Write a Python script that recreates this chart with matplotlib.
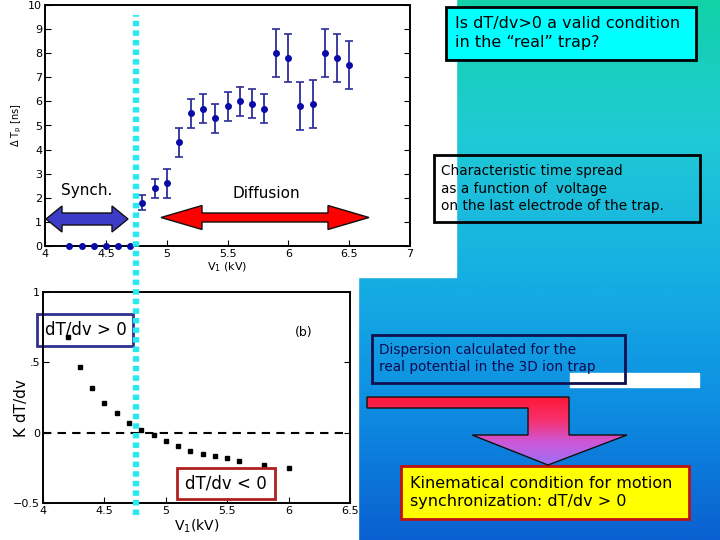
import matplotlib.pyplot as plt
import numpy as np
import matplotlib.transforms as mtransforms
from matplotlib.patches import Rectangle, Polygon
from matplotlib.lines import Line2D
from matplotlib.colors import LinearSegmentedColormap

# top panel: time spread vs voltage on last electrode
v_sync = [4.2, 4.3, 4.4, 4.5, 4.6, 4.7]
dt_sync = [0, 0, 0, 0, 0, 0]
v_diff = [4.8, 4.9, 5.0, 5.1, 5.2, 5.3, 5.4, 5.5, 5.6, 5.7, 5.8, 5.9, 6.0, 6.1, 6.2, 6.3, 6.4, 6.5]
dt_diff = [1.8, 2.4, 2.6, 4.3, 5.5, 5.7, 5.3, 5.8, 6.0, 5.9, 5.7, 8.0, 7.8, 5.8, 5.9, 8.0, 7.8, 7.5]
dt_err = [0.3, 0.4, 0.6, 0.6, 0.6, 0.6, 0.6, 0.6, 0.6, 0.6, 0.6, 1.0, 1.0, 1.0, 1.0, 1.0, 1.0, 1.0]
top_xticks = [4, 4.5, 5, 5.5, 6, 6.5, 7]
top_xlabels = ['4', '4.5', '5', '5.5', '6', '6.5', '7']

# bottom panel: dispersion K dT/dv
v_disp = [4.2, 4.3, 4.4, 4.5, 4.6, 4.7, 4.8, 4.9, 5.0, 5.1, 5.2, 5.3, 5.4, 5.5, 5.6, 5.8, 6.0]
k_dtdv = [0.68, 0.465, 0.32, 0.213, 0.138, 0.067, 0.02, -0.019, -0.059, -0.095, -0.128,
          -0.149, -0.163, -0.178, -0.204, -0.232, -0.249]
bot_xticks = [4, 4.5, 5, 5.5, 6, 6.5]
bot_xlabels = ['4', '4.5', '5', '5.5', '6', '6.5']
bot_yticks = [-0.5, 0, 0.5, 1]
bot_ylabels = ['\u22120.5', '0', '.5', '1']

v_limit = 4.75  # synch / diffusion boundary

fig = plt.figure(figsize=(7.2, 5.4), dpi=100)

# slide background (pixel coords)
bg = fig.add_axes([0, 0, 1, 1], zorder=-10)
cmap = LinearSegmentedColormap.from_list('slide', ['#12d2a8', '#20cad6', '#16b0e2', '#0e8ee2', '#0a60d0'])
grad = np.linspace(0, 1, 256).reshape(-1, 1)
bg.imshow(grad, aspect='auto', cmap=cmap, extent=[0, 720, 540, 0])
bg.add_patch(Rectangle((0, 0), 456, 277, color='white'))
bg.add_patch(Rectangle((0, 277), 358, 263, color='white'))
bg.set_xlim(0, 720)
bg.set_ylim(540, 0)
bg.axis('off')

# overlay for annotations (pixel coords)
ov = fig.add_axes([0, 0, 1, 1], zorder=5)
ov.set_xlim(0, 720)
ov.set_ylim(540, 0)
ov.axis('off')
ov.patch.set_alpha(0)

# ---- top plot
ax1 = fig.add_axes([45/720, 1-246/540, 365/720, 241/540])
ax1.errorbar(v_diff, dt_diff, yerr=dt_err, fmt='o', ms=4, color='#0a0aa8',
             ecolor='#2c2c9c', elinewidth=1.3, capsize=3, capthick=1.2)
ax1.plot(v_sync, dt_sync, 'o', ms=4, color='#0a0aa8', clip_on=False, zorder=4)
ax1.set_xlim(4, 7)
ax1.set_ylim(0, 10)
ax1.set_xticks(top_xticks)
ax1.set_xticklabels(top_xlabels)
ax1.set_yticks(range(0, 11))
ax1.tick_params(direction='in', right=True, labelsize=8, length=4, pad=2)
ax1.set_xlabel('V$_1$ (kV)', fontsize=8, labelpad=1)
ax1.set_ylabel(r'$\Delta$ T$_\mathrm{p}$ [ns]', fontsize=7, labelpad=3)
for s in ax1.spines.values():
    s.set_linewidth(1.4)

# ---- bottom plot
ax2 = fig.add_axes([43/720, 1-503/540, 307/720, 211/540])
ax2.plot(v_disp, k_dtdv, 's', ms=3, color='black', zorder=4)
ax2.axhline(0, ls=(0, (4, 3)), color='black', lw=1.5)
ax2.set_xlim(4, 6.5)
ax2.set_ylim(-0.5, 1)
ax2.set_xticks(bot_xticks)
ax2.set_xticklabels(bot_xlabels)
ax2.set_yticks(bot_yticks)
ax2.set_yticklabels(bot_ylabels)
ax2.tick_params(direction='in', right=True, labelsize=8, length=4, pad=2)
ax2.set_xlabel('V$_1$(kV)', fontsize=10, labelpad=1)
ax2.set_ylabel('K dT/dv', fontsize=11)
ax2.yaxis.set_label_coords(-0.045, 0.45)
for s in ax2.spines.values():
    s.set_linewidth(1.4)
ax2.text(0.82, 0.79, '(b)', transform=ax2.transAxes, fontsize=9)

# box "dT/dv > 0" sits under the data points
ax2.add_patch(Rectangle((37, 314), 96, 32, transform=ov.transData, fc='white',
                        ec='#303090', lw=2, zorder=2, clip_on=False))
ax2.text(45, 330, 'dT/dv > 0', transform=ov.transData, fontsize=12, va='center',
         zorder=3, clip_on=False)

# cyan boundary line across both plots
tr = mtransforms.blended_transform_factory(ax1.transData, fig.transFigure)
fig.add_artist(Line2D([v_limit, v_limit], [1-515/540, 1-15/540], transform=tr,
                      color='#28e8f0', lw=4.6, dashes=(0.85, 0.65), solid_capstyle='butt',
                      dash_capstyle='butt', zorder=3))


def double_arrow(x0, x1, y, hl, hw, bw, fc):
    pts = [(x0, y), (x0+hl, y-hw), (x0+hl, y-bw), (x1-hl, y-bw), (x1-hl, y-hw), (x1, y),
           (x1-hl, y+hw), (x1-hl, y+bw), (x0+hl, y+bw), (x0+hl, y+hw)]
    ov.add_patch(Polygon(pts, closed=True, fc=fc, ec='#101010', lw=1))


double_arrow(46, 128, 219, 16, 13, 6, '#3c3cc8')
double_arrow(161, 369, 217.5, 41, 12, 4.5, '#ff0000')
ov.text(87, 190, 'Synch.', fontsize=11, ha='center', va='center')
ov.text(266, 194, 'Diffusion', fontsize=11, ha='center', va='center')


def box(x0, y0, x1, y1, fc, ec):
    ov.add_patch(Rectangle((x0, y0), x1-x0, y1-y0, fc=fc, ec=ec, lw=2))


box(446, 7, 696, 60, '#00ffff', 'black')
ov.text(455, 33, 'Is dT/dv>0 a valid condition\nin the \u201creal\u201d trap?',
        fontsize=11.5, va='center', linespacing=1.35)

box(434, 155, 700, 222, 'none', 'black')
ov.text(441, 188.5, 'Characteristic time spread\nas a function of  voltage\non the last electrode of the trap.',
        fontsize=9.8, va='center', linespacing=1.3)

ov.add_patch(Rectangle((570, 373), 129, 14, color='white'))
box(372, 335, 625, 383, 'none', '#101050')
ov.text(379, 358.5, 'Dispersion calculated for the\nreal potential in the 3D ion trap',
        fontsize=9.8, va='center', color='#0a0a50', linespacing=1.3)

# L-shaped gradient arrow
arrow_pts = [(367, 397), (569, 397), (569, 435), (627, 435), (548, 465), (472, 435),
             (528, 435), (528, 408), (367, 408)]
arr = Polygon(arrow_pts, closed=True, fc='none', ec='#101010', lw=1, zorder=3)
ov.add_patch(arr)
acmap = LinearSegmentedColormap.from_list('arr', ['#ff1838', '#f8306c', '#cc58d8', '#9c70f6'])
im = ov.imshow(grad, aspect='auto', cmap=acmap, extent=[367, 627, 465, 397], zorder=2)
im.set_clip_path(arr)
ov.set_xlim(0, 720)
ov.set_ylim(540, 0)

box(401, 466, 689, 519, '#ffff00', '#c01010')
ov.text(410, 492.5, 'Kinematical condition for motion\nsynchronization: dT/dv > 0',
        fontsize=11.5, va='center', linespacing=1.3)

box(177, 468, 275, 499, 'white', '#b02020')
ov.text(226, 484, 'dT/dv < 0', fontsize=12, ha='center', va='center')

fig.savefig('out.png', dpi=100)
